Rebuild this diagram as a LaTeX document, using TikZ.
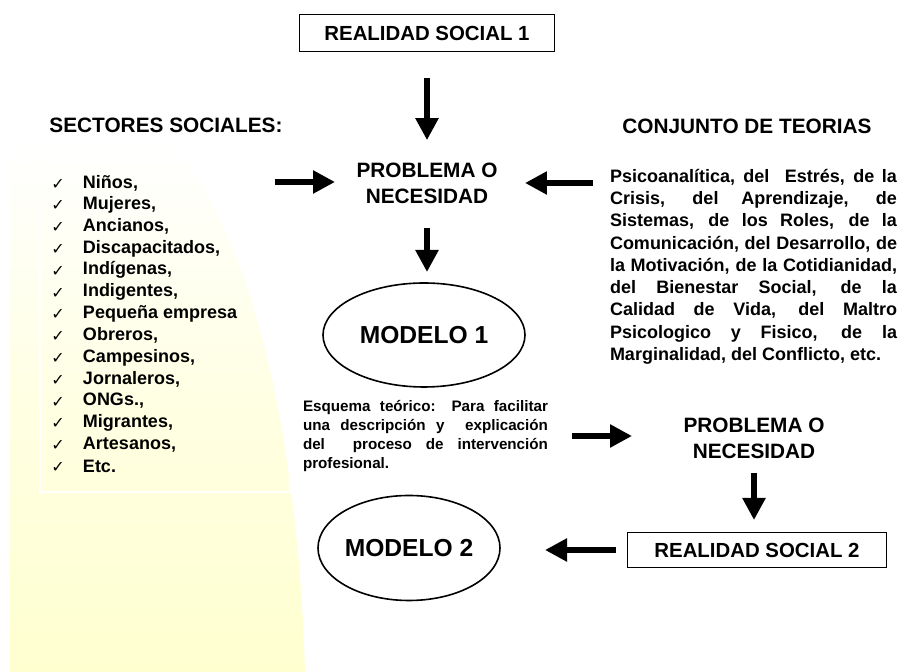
\documentclass[tikz,border=0pt]{standalone}
\usepackage{fontspec}
\setmainfont{Liberation Sans}
\newfontfamily\checkfont{DejaVu Sans}
\usepackage{tikz}
\usetikzlibrary{arrows.meta,shapes.geometric}
\definecolor{paleyellow}{RGB}{255,255,208}

\begin{document}
\begin{tikzpicture}[x=0.5pt,y=-0.5pt,
    every node/.style={inner sep=0pt, outer sep=0pt},
    head/.style={font=\fontsize{10.4}{13}\bfseries\selectfont},
    realbox/.style={draw, line width=0.8pt, font=\fontsize{10.2}{12}\bfseries\selectfont},
    model/.style={draw, ellipse, line width=0.8pt, font=\fontsize{12.3}{14}\bfseries\selectfont},
    bigarrow/.style={line width=2.7pt, -{Triangle[length=11pt,width=11pt]}},
    checkmark/.style={font=\checkfont\bfseries\fontsize{8}{8}\selectfont},
    item/.style={anchor=west, font=\fontsize{9}{11}\bfseries\selectfont}]
\useasboundingbox (0,0) rectangle (900,672);
\shade[top color=white, bottom color=paleyellow, middle color=paleyellow!60] (10,140) -- (10,672) -- (305,672) .. controls (298,430) and (250,230) .. (170,140) -- cycle;
\draw[white, line width=0.8pt] (40,158) rectangle (290,492);

\node[realbox, minimum width=127.5pt, minimum height=18.5pt] (rs1) at (427,33) {REALIDAD SOCIAL 1};
\node[head] (sect) at (166,125) {SECTORES SOCIALES:};
\node[head] (teor) at (747,126) {CONJUNTO DE TEORIAS};
\node[head, align=center] (prob1) at (427,183) {PROBLEMA O\\NECESIDAD};

\foreach \name [count=\i from 0] in {{Niños,},{Mujeres,},{Ancianos,},{Discapacitados,},{Indígenas,},{Indigentes,},{Pequeña empresa},{Obreros,},{Campesinos,},{Jornaleros,},{ONGs.,},{Migrantes,},{Artesanos,},{Etc.}}{
    \node[checkmark] (chk\i) at (58,184+21.8*\i) {✓};
    \node[item] (sec\i) at (83,183+21.8*\i) {\name};
}

\node[anchor=north west, text width=143.5pt, align=justify, font=\fontsize{9}{11.15}\bfseries\selectfont] (teorlist) at (610,169) {Psicoanalítica, del \ Estrés, de la\linebreak Crisis, del Aprendizaje, de\linebreak Sistemas, de los Roles, de la\linebreak Comunicación, del Desarrollo, de\linebreak la Motivación, de la Cotidianidad,\linebreak del Bienestar Social, de la\linebreak Calidad de Vida, del Maltro\linebreak Psicologico y Fisico, de la\linebreak Marginalidad, del Conflicto, etc.};

\node[model, minimum width=101pt, minimum height=52pt] (mod1) at (424,335) {MODELO 1};
\node[anchor=west, text width=122.5pt, align=justify, font=\fontsize{7.6}{9.5}\bfseries\selectfont] (esq) at (303,436) {Esquema teórico: Para facilitar\linebreak una descripción y \ explicación\linebreak del \ proceso de intervención\linebreak profesional.};
\node[head, align=center] (prob2) at (754,438) {PROBLEMA O\\NECESIDAD};
\node[realbox, minimum width=129.5pt, minimum height=17.5pt] (rs2) at (757,550) {REALIDAD SOCIAL 2};
\node[model, minimum width=91pt, minimum height=52.5pt] (mod2) at (409,548) {MODELO 2};

\coordinate (sectout) at (275,182);
\coordinate (teorout) at (593,183);
\draw[bigarrow, shorten <=13.25pt, shorten >=11.25pt] (rs1.south) -- (prob1.north);
\draw[bigarrow, shorten >=10.75pt] (sectout) -- (sectout -| prob1.west);
\draw[bigarrow, shorten >=13.75pt] (teorout) -- (teorout -| prob1.east);
\draw[bigarrow, shorten <=12.25pt, shorten >=5.5pt] (prob1.south) -- (prob1.south |- mod1.north);
\draw[bigarrow, shorten <=12pt, shorten >=25.75pt] (esq.east) -- (esq.east -| prob2.west);
\draw[bigarrow, shorten <=7.25pt, shorten >=6.25pt] (prob2.south) -- (prob2.south |- rs2.north);
\draw[bigarrow, shorten <=6pt, shorten >=22.5pt] (rs2.west) -- (rs2.west -| mod2.east);
\end{tikzpicture}
\end{document}
